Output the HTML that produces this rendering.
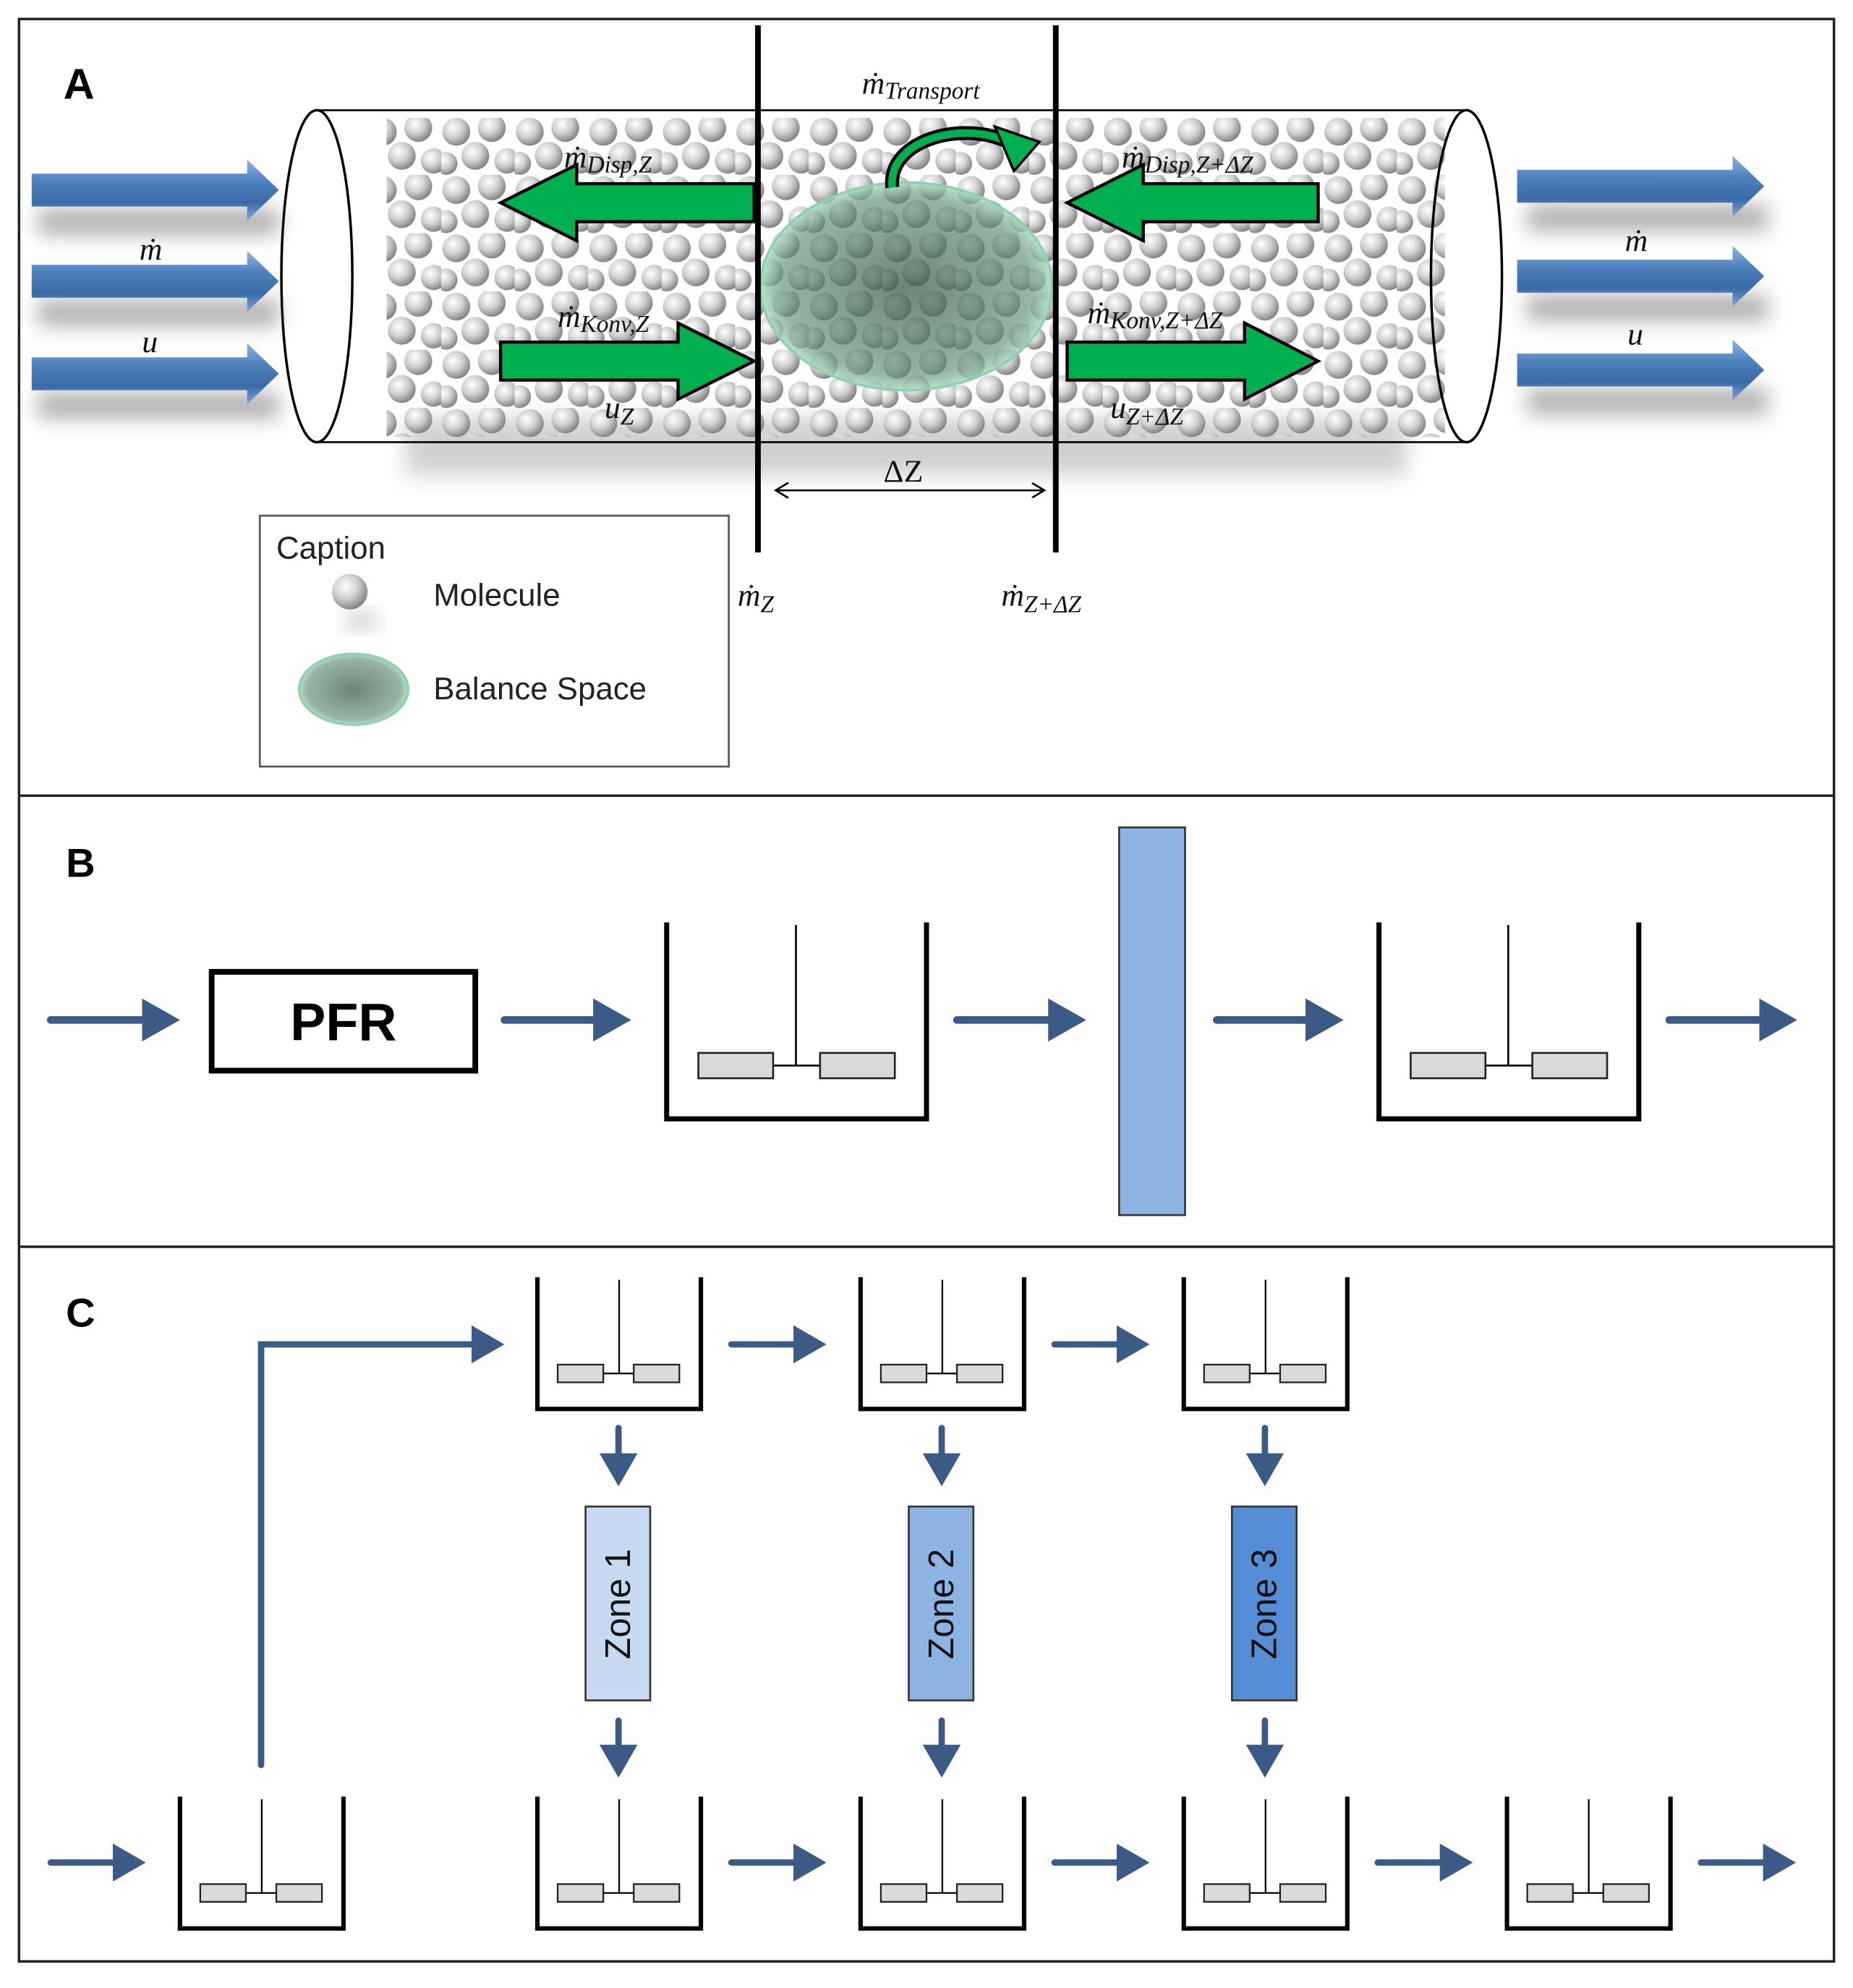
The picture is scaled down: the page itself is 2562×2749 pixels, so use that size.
<!DOCTYPE html>
<html><head><meta charset="utf-8"><style>html,body{margin:0;padding:0;background:#fff}svg{display:block}</style></head><body>
<svg width="2562" height="2749" viewBox="0 0 1462 1569" preserveAspectRatio="none" xmlns="http://www.w3.org/2000/svg">
<defs>
<radialGradient id="sph" cx="0.38" cy="0.35" r="0.7"><stop offset="0" stop-color="#fff"/><stop offset="0.5" stop-color="#d0d0d0"/><stop offset="1" stop-color="#7a7a7a"/></radialGradient>
<pattern id="mol" width="58" height="46" patternUnits="userSpaceOnUse">
<circle cx="12" cy="12" r="11" fill="url(#sph)"/><circle cx="40" cy="9" r="11" fill="url(#sph)"/>
<circle cx="27" cy="31" r="11" fill="url(#sph)"/><circle cx="52" cy="35" r="10" fill="url(#sph)"/><circle cx="4" cy="37" r="9" fill="url(#sph)"/>
</pattern>
<linearGradient id="blu" x1="0" y1="0" x2="0" y2="1"><stop offset="0" stop-color="#8fb4e3"/><stop offset="0.35" stop-color="#4f81bd"/><stop offset="0.7" stop-color="#3a6aa8"/><stop offset="1" stop-color="#7fa6d8"/></linearGradient>
<radialGradient id="bal" cx="0.5" cy="0.5" r="0.5"><stop offset="0" stop-color="#3c5a4a" stop-opacity="0.75"/><stop offset="0.85" stop-color="#5e8a72" stop-opacity="0.65"/><stop offset="1" stop-color="#a8dcc0" stop-opacity="0.8"/></radialGradient>
<filter id="blur" x="-20%" y="-50%" width="140%" height="200%"><feGaussianBlur stdDeviation="8"/></filter>
<marker id="ah" markerWidth="30" markerHeight="34" refX="4" refY="17" orient="auto" markerUnits="userSpaceOnUse"><path d="M0,0 L30,17 L0,34 Z" fill="#3b5a85"/></marker>
<marker id="ahs" markerWidth="26" markerHeight="30" refX="4" refY="15" orient="auto" markerUnits="userSpaceOnUse"><path d="M0,0 L26,15 L0,30 Z" fill="#3b5a85"/></marker>
<marker id="dz" markerWidth="12" markerHeight="12" refX="10" refY="6" orient="auto" markerUnits="userSpaceOnUse"><path d="M0,0 L10,6 L0,12" fill="none" stroke="#000" stroke-width="1.5"/></marker>
<g id="tb">
<path d="M0,0 V155 H205 V0" fill="none" stroke="#000" stroke-width="4"/>
<line x1="102" y1="2" x2="102" y2="113" stroke="#000" stroke-width="1.5"/>
<line x1="84" y1="113" x2="121" y2="113" stroke="#000" stroke-width="1.5"/>
<rect x="25" y="103" width="59" height="20" fill="#d9d9d9" stroke="#222" stroke-width="1.5"/>
<rect x="121" y="103" width="59" height="20" fill="#d9d9d9" stroke="#222" stroke-width="1.5"/>
</g>
<g id="ts">
<path d="M0,0 V104 H129 V0" fill="none" stroke="#000" stroke-width="3.5"/>
<line x1="64.5" y1="2" x2="64.5" y2="76" stroke="#000" stroke-width="1.3"/>
<line x1="52" y1="76" x2="76" y2="76" stroke="#000" stroke-width="1.3"/>
<rect x="16" y="69" width="36" height="14" fill="#d9d9d9" stroke="#222" stroke-width="1.3"/>
<rect x="76" y="69" width="36" height="14" fill="#d9d9d9" stroke="#222" stroke-width="1.3"/>
</g>
<path id="ba" d="M0,-13 H170 V-24 L195,0 L170,24 V13 H0 Z"/>
</defs>
<rect width="1462" height="1569" fill="#fff"/>
<rect x="15" y="15" width="1432" height="1533" fill="none" stroke="#222" stroke-width="2"/>
<line x1="15" y1="628" x2="1447" y2="628" stroke="#222" stroke-width="2"/>
<line x1="15" y1="984" x2="1447" y2="984" stroke="#222" stroke-width="2"/>

<!-- Panel A -->
<text x="50" y="78" font-family="Liberation Sans" font-weight="bold" font-size="34">A</text>
<rect x="320" y="330" width="790" height="45" fill="#999" filter="url(#blur)" opacity="0.45"/>
<rect x="305" y="93" width="835" height="252" fill="url(#mol)"/>
<line x1="250" y1="87" x2="1157" y2="87" stroke="#000" stroke-width="1.5"/>
<line x1="250" y1="349" x2="1157" y2="349" stroke="#000" stroke-width="1.5"/>
<ellipse cx="250" cy="218" rx="28" ry="131" fill="#fff" stroke="#000" stroke-width="2"/>
<ellipse cx="1157" cy="218" rx="28" ry="131" fill="none" stroke="#000" stroke-width="2"/>
<ellipse cx="715" cy="226" rx="115" ry="82" fill="url(#bal)" stroke="#8fd0ae" stroke-width="2"/>
<g fill="#777" filter="url(#blur)" opacity="0.6">
<rect x="30" y="165" width="190" height="20"/><rect x="30" y="237" width="190" height="20"/><rect x="30" y="310" width="190" height="20"/>
<rect x="1205" y="162" width="190" height="20"/><rect x="1205" y="233" width="190" height="20"/><rect x="1205" y="307" width="190" height="20"/>
</g>
<g fill="url(#blu)">
<use href="#ba" x="25" y="150"/><use href="#ba" x="25" y="222"/><use href="#ba" x="25" y="295"/>
<use href="#ba" x="1197" y="147"/><use href="#ba" x="1197" y="218"/><use href="#ba" x="1197" y="292"/>
</g>
<g fill="#00b050" stroke="#000" stroke-width="2.5" stroke-linejoin="miter">
<path d="M595,145 H455 V130 L395,160 L455,190 V175 H595 Z"/>
<path d="M395,270 H535 V255 L595,285 L535,315 V300 H395 Z"/>
<path d="M1040,145 H902 V130 L842,160 L902,190 V175 H1040 Z"/>
<path d="M842,270 H982 V255 L1040,285 L982,315 V300 H842 Z"/>
</g>
<path d="M704,148 C700,110 760,95 795,112" fill="none" stroke="#000" stroke-width="11"/>
<path d="M704,148 C700,110 760,95 795,112" fill="none" stroke="#00b050" stroke-width="6"/>
<path d="M785,100 L820,112 L800,135 Z" fill="#00b050" stroke="#000" stroke-width="2"/>
<line x1="598" y1="20" x2="598" y2="436" stroke="#000" stroke-width="4.5"/>
<line x1="833" y1="20" x2="833" y2="436" stroke="#000" stroke-width="4.5"/>
<line x1="612" y1="387" x2="824" y2="387" stroke="#000" stroke-width="1.5" marker-end="url(#dz)"/>
<path d="M622,381 L612,387 L622,393" fill="none" stroke="#000" stroke-width="1.5"/>
<g font-family="Liberation Serif" font-style="italic" font-size="25" fill="#111">
<text x="680" y="74">ṁ<tspan font-size="19" dy="4">Transport</tspan></text>
<text x="445" y="132">ṁ<tspan font-size="19" dy="4">Disp,Z</tspan></text>
<text x="885" y="132">ṁ<tspan font-size="19" dy="4">Disp,Z+ΔZ</tspan></text>
<text x="440" y="258">ṁ<tspan font-size="19" dy="4">Konv,Z</tspan></text>
<text x="858" y="255">ṁ<tspan font-size="19" dy="4">Konv,Z+ΔZ</tspan></text>
<text x="477" y="330">u<tspan font-size="19" dy="5">Z</tspan></text>
<text x="876" y="330">u<tspan font-size="19" dy="5">Z+ΔZ</tspan></text>
<text x="697" y="380" font-style="normal">ΔZ</text>
<text x="582" y="478">ṁ<tspan font-size="19" dy="5">Z</tspan></text>
<text x="790" y="478">ṁ<tspan font-size="19" dy="5">Z+ΔZ</tspan></text>
<text x="110" y="205">ṁ</text><text x="112" y="278">u</text>
<text x="1282" y="198">ṁ</text><text x="1284" y="272">u</text>
</g>
<rect x="205" y="407" width="370" height="198" fill="#fff" stroke="#555" stroke-width="1.5"/>
<g font-family="Liberation Sans" font-size="25" fill="#222">
<text x="218" y="441">Caption</text><text x="342" y="478">Molecule</text><text x="342" y="552">Balance Space</text>
</g>
<ellipse cx="285" cy="490" rx="14" ry="6" fill="#999" filter="url(#blur)" opacity="0.6"/>
<circle cx="276" cy="467" r="14" fill="url(#sph)"/>
<ellipse cx="279" cy="544" rx="43" ry="28" fill="url(#bal)" stroke="#8fd0ae" stroke-width="2"/>

<!-- Panel B -->
<text x="52" y="692" font-family="Liberation Sans" font-weight="bold" font-size="32">B</text>
<g stroke="#3b5a85" stroke-width="6" stroke-linecap="round">
<line x1="40" y1="805" x2="116" y2="805" marker-end="url(#ah)"/>
<line x1="398" y1="805" x2="472" y2="805" marker-end="url(#ah)"/>
<line x1="755" y1="805" x2="831" y2="805" marker-end="url(#ah)"/>
<line x1="960" y1="805" x2="1034" y2="805" marker-end="url(#ah)"/>
<line x1="1317" y1="805" x2="1392" y2="805" marker-end="url(#ah)"/>
</g>
<rect x="167" y="767" width="208" height="78" fill="#fff" stroke="#000" stroke-width="4.5"/>
<text x="271" y="821" text-anchor="middle" font-family="Liberation Sans" font-weight="bold" font-size="42">PFR</text>
<use href="#tb" x="526" y="728"/>
<use href="#tb" x="1088" y="728"/>
<rect x="883" y="653" width="52" height="306" fill="#8db3e2" stroke="#333" stroke-width="1.5"/>

<!-- Panel C -->
<text x="52" y="1047" font-family="Liberation Sans" font-weight="bold" font-size="32">C</text>
<use href="#ts" x="424" y="1008"/><use href="#ts" x="679" y="1008"/><use href="#ts" x="934" y="1008"/>
<use href="#ts" x="142" y="1418"/><use href="#ts" x="424" y="1418"/><use href="#ts" x="679" y="1418"/><use href="#ts" x="934" y="1418"/><use href="#ts" x="1189" y="1418"/>
<g stroke="#3b5a85" stroke-width="5" stroke-linecap="round" fill="none">
<path d="M206,1393 V1061 H376" marker-end="url(#ahs)"/>
<line x1="577" y1="1061" x2="630" y2="1061" marker-end="url(#ahs)"/>
<line x1="832" y1="1061" x2="885" y2="1061" marker-end="url(#ahs)"/>
<line x1="40" y1="1470" x2="93" y2="1470" marker-end="url(#ahs)"/>
<line x1="577" y1="1470" x2="630" y2="1470" marker-end="url(#ahs)"/>
<line x1="832" y1="1470" x2="885" y2="1470" marker-end="url(#ahs)"/>
<line x1="1087" y1="1470" x2="1140" y2="1470" marker-end="url(#ahs)"/>
<line x1="1342" y1="1470" x2="1395" y2="1470" marker-end="url(#ahs)"/>
<line x1="488" y1="1127" x2="488" y2="1151" marker-end="url(#ahs)"/>
<line x1="743" y1="1127" x2="743" y2="1151" marker-end="url(#ahs)"/>
<line x1="998" y1="1127" x2="998" y2="1151" marker-end="url(#ahs)"/>
<line x1="488" y1="1358" x2="488" y2="1381" marker-end="url(#ahs)"/>
<line x1="743" y1="1358" x2="743" y2="1381" marker-end="url(#ahs)"/>
<line x1="998" y1="1358" x2="998" y2="1381" marker-end="url(#ahs)"/>
</g>
<rect x="462" y="1189" width="51" height="153" fill="#c6d9f1" stroke="#333" stroke-width="1.5"/>
<rect x="717" y="1189" width="51" height="153" fill="#8db3e2" stroke="#333" stroke-width="1.5"/>
<rect x="972" y="1189" width="51" height="153" fill="#558ed5" stroke="#333" stroke-width="1.5"/>
<g font-family="Liberation Sans" font-size="28" fill="#111" text-anchor="middle">
<text transform="translate(497,1266) rotate(-90)">Zone 1</text>
<text transform="translate(752,1266) rotate(-90)">Zone 2</text>
<text transform="translate(1007,1266) rotate(-90)">Zone 3</text>
</g>
</svg>
</body></html>
